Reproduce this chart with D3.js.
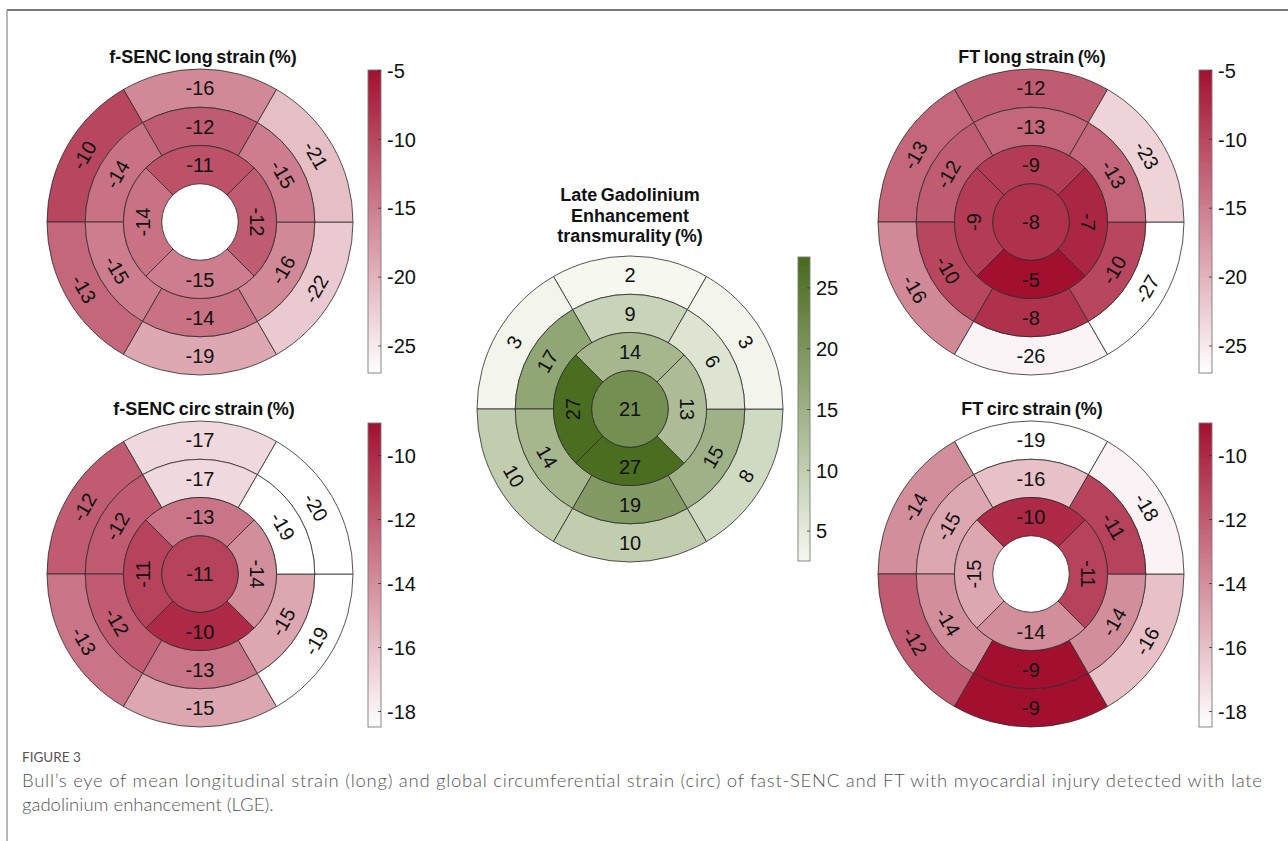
<!DOCTYPE html>
<html>
<head>
<meta charset="utf-8">
<script src="https://cdn.jsdelivr.net/npm/d3@7"></script>
<style>
  html, body { margin: 0; padding: 0; background: #fff; }
  svg { display: block; }
</style>
</head>
<body>
<svg id="fig" width="1288" height="841"></svg>
<script>
// 17-segment bull's eye values, AHA order.
// Basal / mid: anterior (top), anteroseptal, inferoseptal, inferior, inferolateral, anterolateral.
// Apical: anterior, septal, inferior, lateral. Apex: single value (null = not shown).
const fsencLongBasal  = [-16, -10, -13, -19, -22, -21];
const fsencLongMid    = [-12, -14, -15, -14, -16, -15];
const fsencLongApical = [-11, -14, -15, -12];
const fsencLongApex   = null;

const fsencCircBasal  = [-17, -12, -13, -15, -19, -20];
const fsencCircMid    = [-17, -12, -12, -13, -15, -19];
const fsencCircApical = [-13, -11, -10, -14];
const fsencCircApex   = -11;

const lgeBasal  = [2, 3, 10, 10, 8, 3];
const lgeMid    = [9, 17, 14, 19, 15, 6];
const lgeApical = [14, 27, 27, 13];
const lgeApex   = 21;

const ftLongBasal  = [-12, -13, -16, -26, -27, -23];
const ftLongMid    = [-13, -12, -10, -8, -10, -13];
const ftLongApical = [-9, -9, -5, -7];
const ftLongApex   = -8;

const ftCircBasal  = [-19, -14, -12, -9, -16, -18];
const ftCircMid    = [-16, -15, -14, -9, -14, -11];
const ftCircApical = [-10, -15, -14, -11];
const ftCircApex   = null;

// Colour ranges and colourbar ticks
const longRange = [-27, -5];
const circRange = [-18.5, -9];
const lgeRange  = [2.5, 27.5];
const longTicks = [-25, -20, -15, -10, -5];
const circTicks = [-18, -16, -14, -12, -10];
const lgeTicks  = [5, 10, 15, 20, 25];

const titles = {
  fsencLong: ["f-SENC long strain (%)"],
  fsencCirc: ["f-SENC circ strain (%)"],
  lge: ["Late Gadolinium", "Enhancement", "transmurality (%)"],
  ftLong: ["FT long strain (%)"],
  ftCirc: ["FT circ strain (%)"]
};

const captionLabel = "FIGURE 3";
const captionLines = [
  "Bull\u2019s eye of mean longitudinal strain (long) and global circumferential strain (circ) of fast-SENC and FT with myocardial injury detected with late",
  "gadolinium enhancement (LGE)."
];

const svg = d3.select("#fig");
const FONT = "'Liberation Sans', Arial, Helvetica, sans-serif";
const CAPFONT = "Lato, 'Open Sans', sans-serif";

// panel frame (top and left rules)
svg.append("line").attr("x1", 7).attr("y1", 10).attr("x2", 1288).attr("y2", 10)
  .attr("stroke", "#4a4a4a").attr("stroke-width", 1.5);
svg.append("line").attr("x1", 7).attr("y1", 10).attr("x2", 7).attr("y2", 841)
  .attr("stroke", "#8a8a8a").attr("stroke-width", 1.2);

const redScale = d => d3.scaleLinear().domain(d).range(["#ffffff", "#a3102f"]).clamp(true);
const greenScale = d => d3.scaleLinear().domain(d).range(["#f6f8f0", "#486a1c"]).clamp(true);

const deg = Math.PI / 180;

function labelRotation(theta) {
  // theta: math angle of the segment centre, in degrees
  const t = ((theta % 360) + 360) % 360;
  if (t === 90 || t === 270) return 0;
  if (t <= 180) return 90 - t;        // upper half: tangential, tops outward
  return -(t + 90);                    // lower half: tangential, tops inward
}

function bullseye(cfg) {
  const { cx, cy, R, basal, mid, apical, apex, color } = cfg;
  const g = svg.append("g").attr("transform", `translate(${cx},${cy})`);
  const radius = d3.scaleLinear().domain([0, 4]).range([0, R]);
  const arc = d3.arc();

  const segs = [];
  const six = [90, 150, 210, 270, 330, 30];
  basal.forEach((v, i) => segs.push({ v, theta: six[i], span: 60, r0: radius(3), r1: radius(4) }));
  mid.forEach((v, i) => segs.push({ v, theta: six[i], span: 60, r0: radius(2), r1: radius(3) }));
  const four = [90, 180, 270, 0];
  apical.forEach((v, i) => segs.push({ v, theta: four[i], span: 90, r0: radius(1), r1: radius(2) }));

  g.selectAll("path.seg").data(segs).join("path")
    .attr("class", "seg")
    .attr("d", d => arc({
      innerRadius: d.r0, outerRadius: d.r1,
      startAngle: (90 - d.theta - d.span / 2) * deg,
      endAngle: (90 - d.theta + d.span / 2) * deg
    }))
    .attr("fill", d => color(d.v))
    .attr("stroke", "#2b2b2b").attr("stroke-width", 0.8);

  if (apex !== null) {
    g.append("circle").attr("r", radius(1))
      .attr("fill", color(apex)).attr("stroke", "#2b2b2b").attr("stroke-width", 0.8);
    g.append("text").attr("x", 0).attr("y", 0).attr("dy", "0.36em")
      .attr("text-anchor", "middle").attr("font-family", FONT).attr("font-size", 20)
      .attr("fill", "#111").text(apex);
  }

  g.selectAll("text.lab").data(segs).join("text")
    .attr("class", "lab")
    .attr("transform", d => {
      const rm = (d.r0 + d.r1) / 2;
      const x = rm * Math.cos(d.theta * deg);
      const y = -rm * Math.sin(d.theta * deg);
      return `translate(${x},${y}) rotate(${labelRotation(d.theta)})`;
    })
    .attr("dy", "0.36em")
    .attr("text-anchor", "middle")
    .attr("font-family", FONT).attr("font-size", 20).attr("fill", "#111")
    .text(d => d.v);
}

function colorbar(cfg) {
  const { x, y0, y1, w, domain, ticks, color, id } = cfg;
  const grad = svg.append("defs").append("linearGradient")
    .attr("id", id).attr("x1", 0).attr("y1", 1).attr("x2", 0).attr("y2", 0);
  d3.range(0, 1.0001, 0.05).forEach(t => {
    grad.append("stop").attr("offset", t)
      .attr("stop-color", color(domain[0] + t * (domain[1] - domain[0])));
  });
  svg.append("rect").attr("x", x).attr("y", y0).attr("width", w).attr("height", y1 - y0)
    .attr("fill", `url(#${id})`).attr("stroke", "#7a7a7a").attr("stroke-width", 0.9);
  const yScale = d3.scaleLinear().domain(domain).range([y1, y0]);
  const ax = svg.append("g").attr("transform", `translate(${x + w},0)`)
    .call(d3.axisRight(yScale).tickValues(ticks).tickSize(-3).tickPadding(6)
      .tickFormat(d => String(d)));
  ax.select(".domain").remove();
  ax.selectAll(".tick line").attr("stroke", "#333").attr("stroke-width", 0.8);
  ax.selectAll(".tick text").attr("font-family", FONT).attr("font-size", 20).attr("fill", "#111")
    .attr("dy", "0.36em");
}

function title(lines, cx, baseline, step) {
  lines.forEach((s, i) => {
    svg.append("text").attr("x", cx).attr("y", baseline + i * step)
      .attr("text-anchor", "middle").attr("font-family", FONT)
      .attr("font-weight", "bold").attr("font-size", 18).attr("fill", "#111")
      .attr("word-spacing", -1.5)
      .text(s);
  });
}

const longColor = redScale(longRange);
const circColor = redScale(circRange);
const lgeColor = greenScale(lgeRange);

// f-SENC longitudinal
bullseye({ cx: 200, cy: 222, R: 153, basal: fsencLongBasal, mid: fsencLongMid,
  apical: fsencLongApical, apex: fsencLongApex, color: longColor });
colorbar({ x: 368, y0: 70, y1: 373, w: 13, domain: longRange, ticks: longTicks, color: longColor, id: "cb1" });
title(titles.fsencLong, 203, 63, 0);

// f-SENC circumferential
bullseye({ cx: 200, cy: 574, R: 153, basal: fsencCircBasal, mid: fsencCircMid,
  apical: fsencCircApical, apex: fsencCircApex, color: circColor });
colorbar({ x: 368, y0: 423, y1: 727, w: 13, domain: circRange, ticks: circTicks, color: circColor, id: "cb2" });
title(titles.fsencCirc, 204, 415, 0);

// LGE transmurality
bullseye({ cx: 630, cy: 409, R: 153, basal: lgeBasal, mid: lgeMid,
  apical: lgeApical, apex: lgeApex, color: lgeColor });
colorbar({ x: 798, y0: 257, y1: 561, w: 12, domain: lgeRange, ticks: lgeTicks, color: lgeColor, id: "cb3" });
title(titles.lge, 630, 201, 20.5);

// FT longitudinal
bullseye({ cx: 1031, cy: 222, R: 153, basal: ftLongBasal, mid: ftLongMid,
  apical: ftLongApical, apex: ftLongApex, color: longColor });
colorbar({ x: 1199, y0: 70, y1: 373, w: 13, domain: longRange, ticks: longTicks, color: longColor, id: "cb4" });
title(titles.ftLong, 1032, 63, 0);

// FT circumferential
bullseye({ cx: 1031, cy: 574, R: 153, basal: ftCircBasal, mid: ftCircMid,
  apical: ftCircApical, apex: ftCircApex, color: circColor });
colorbar({ x: 1199, y0: 423, y1: 727, w: 13, domain: circRange, ticks: circTicks, color: circColor, id: "cb5" });
title(titles.ftCirc, 1032, 415, 0);

// caption
svg.append("text").attr("x", 22).attr("y", 762)
  .attr("font-family", CAPFONT).attr("font-size", 13.5)
  .attr("fill", "#555").text(captionLabel);
captionLines.forEach((s, i) => {
  const t = svg.append("text").attr("x", 22).attr("y", 787 + i * 23.5)
    .attr("font-family", CAPFONT).attr("font-size", 18.5)
    .attr("font-weight", 300)
    .attr("fill", "#555").text(s);
  if (i === 0) t.attr("textLength", 1240).attr("lengthAdjust", "spacing");
});
</script>
</body>
</html>
